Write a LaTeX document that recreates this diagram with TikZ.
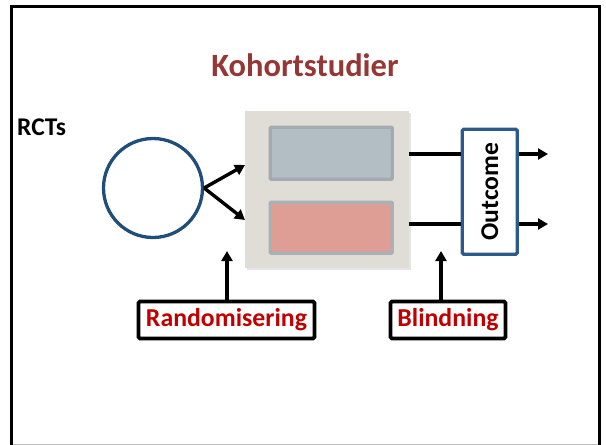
\documentclass[tikz,border=0pt]{standalone}
\usepackage{fontspec}
\setmainfont{Carlito}
\usetikzlibrary{arrows.meta}
\definecolor{titlered}{RGB}{149,55,53}
\definecolor{labred}{RGB}{192,0,0}
\definecolor{circblue}{RGB}{31,78,121}
\definecolor{outblue}{RGB}{44,90,141}
\definecolor{boxgrey}{RGB}{224,221,215}
\definecolor{topfill}{RGB}{179,190,196}
\definecolor{topedge}{RGB}{162,171,177}
\definecolor{botfill}{RGB}{222,157,149}
\definecolor{botedge}{RGB}{167,177,182}
\tikzset{
  arr/.style={line width=3.4pt,-{Triangle[length=10pt,width=11pt]}},
  plain/.style={line width=3.4pt},
  labbox/.style={draw=black,line width=3.8pt,rounded corners=1.5pt,fill=white,inner sep=0pt,
     font=\bfseries\fontsize{25.8}{30}\selectfont,text=labred},
}
\begin{document}
\begin{tikzpicture}[x=1pt,y=-1pt]
\useasboundingbox (0,0) rectangle (606,445);
% frame
\draw[line width=1pt,black!25] (11,444.5) -- (599,444.5);
\draw[line width=3pt] (11,445) -- (11,6) -- (599,6) -- (599,445);
% texts
\node[anchor=base,text=titlered,font=\bfseries\fontsize{32.5}{38}\selectfont] (title) at (305,76) {Kohortstudier};
\node[anchor=base west,inner sep=0pt,font=\bfseries\fontsize{25.5}{30}\selectfont] (rcts) at (17,135) {RCTs};
% circle
\node[circle,draw=circblue,line width=3.3pt,minimum size=99pt,inner sep=0pt] (circ) at (153,188) {};
% grey box with shadow
\fill[black!10] (246.5,112.5) rectangle (410.5,269.5);
\node[fill=boxgrey,minimum width=164pt,minimum height=157pt,inner sep=0pt,anchor=north west] (grey) at (245,111) {};
\node[fill=topfill,draw=topedge,line width=3.3pt,rounded corners=1pt,minimum width=122pt,minimum height=52pt,inner sep=0pt,anchor=north west] (top) at (268.6,125.6) {};
\node[fill=botfill,draw=botedge,line width=3.3pt,rounded corners=1pt,minimum width=122pt,minimum height=51pt,inner sep=0pt,anchor=north west] (bot) at (268.6,200.6) {};
% outcome
\node[draw=outblue,fill=white,line width=3.3pt,rounded corners=1.5pt,minimum width=55pt,minimum height=125pt,inner sep=0pt,anchor=north west] (outc) at (460.6,127.6) {};
\node[rotate=90,font=\bfseries\fontsize{25.6}{30}\selectfont] (outtxt) at (outc.center) {Outcome};
% arrows from circle
\draw[arr] (circ.east) -- (grey.west |- 0,165);
\draw[arr] (circ.east) -- (grey.west |- 0,220);
% lines to outcome
\draw[plain] (grey.east |- 0,154) -- (outc.west |- 0,154);
\draw[plain] (grey.east |- 0,224) -- (outc.west |- 0,224);
\coordinate (o1) at (548,154);
\coordinate (o2) at (548,224);
\draw[arr] (outc.east |- o1) -- (o1);
\draw[arr] (outc.east |- o2) -- (o2);
% labels
\node[labbox,minimum width=176pt,minimum height=37pt] (rand) at (226.5,320) {Randomisering};
\node[labbox,minimum width=115pt,minimum height=37pt] (blind) at (448,320) {Blindning};
\coordinate (r1) at (227,251);
\coordinate (b1) at (441,251);
\draw[arr] (rand.north -| r1) -- (r1);
\draw[arr] (blind.north -| b1) -- (b1);
\end{tikzpicture}
\end{document}
